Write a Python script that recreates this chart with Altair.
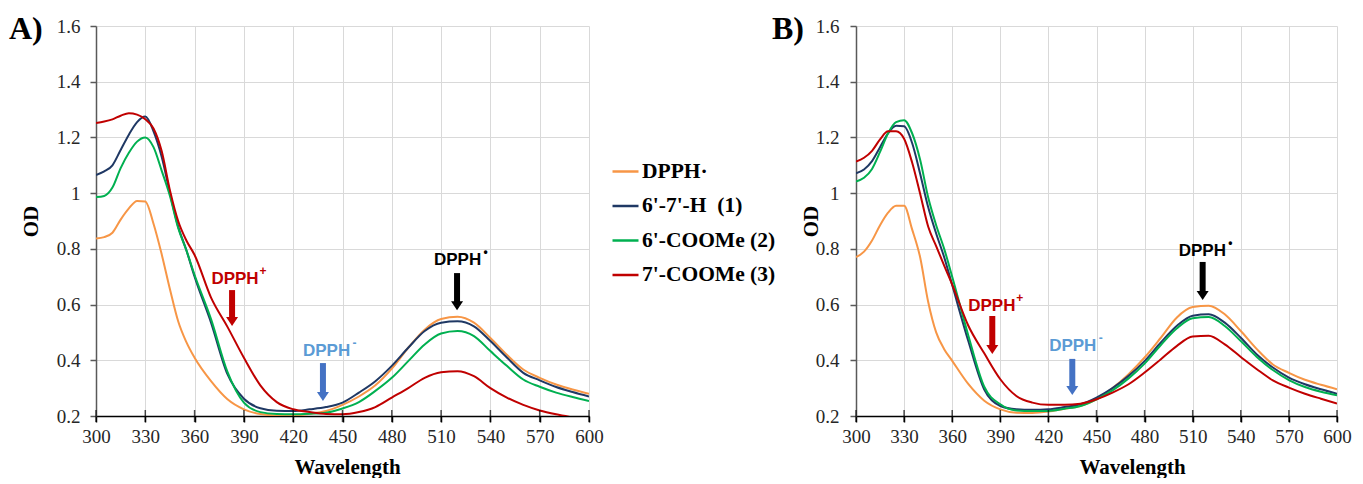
import altair as alt
import pandas as pd

# ---------------- data ----------------
wavelength = [300, 305, 310, 315, 320, 325, 330, 335, 340, 345, 350, 355, 360, 370, 380, 390,
              400, 410, 420, 430, 440, 450, 460, 470, 480, 490, 500, 510, 520, 530, 540, 550,
              560, 570, 580, 590, 600]

series_names = ["DPPH\u00b7", "6'-7'-H\u00a0 (1)", "6'-COOMe (2)", "7'-COOMe (3)"]
series_colors = ["#F79646", "#1F3864", "#00B050", "#C00000"]

# Panel A
a_dpph = [0.837, 0.842, 0.858, 0.905, 0.945, 0.972, 0.970, 0.890, 0.780, 0.655, 0.540, 0.465,
          0.409, 0.325, 0.260, 0.224, 0.207, 0.202, 0.202, 0.208, 0.218, 0.240, 0.270, 0.310,
          0.370, 0.445, 0.510, 0.548, 0.556, 0.535, 0.480, 0.420, 0.367, 0.337, 0.313, 0.295, 0.280]
a_h = [1.065, 1.078, 1.100, 1.155, 1.210, 1.255, 1.275, 1.222, 1.130, 1.000, 0.880, 0.795,
       0.700, 0.535, 0.350, 0.262, 0.228, 0.219, 0.218, 0.224, 0.232, 0.248, 0.284, 0.325,
       0.380, 0.445, 0.505, 0.535, 0.540, 0.522, 0.469, 0.410, 0.355, 0.328, 0.304, 0.286, 0.270]
a_6 = [0.986, 0.990, 1.020, 1.090, 1.145, 1.185, 1.200, 1.165, 1.080, 0.990, 0.875, 0.795,
       0.706, 0.548, 0.358, 0.248, 0.214, 0.207, 0.206, 0.208, 0.212, 0.227, 0.250, 0.290,
       0.337, 0.397, 0.457, 0.496, 0.505, 0.487, 0.433, 0.380, 0.331, 0.305, 0.284, 0.268, 0.254]
a_7 = [1.252, 1.257, 1.265, 1.278, 1.287, 1.282, 1.265, 1.232, 1.150, 1.010, 0.900, 0.830,
       0.778, 0.625, 0.520, 0.409, 0.310, 0.250, 0.224, 0.214, 0.207, 0.206, 0.214, 0.232,
       0.266, 0.300, 0.337, 0.357, 0.361, 0.343, 0.300, 0.266, 0.240, 0.220, 0.206, 0.195, 0.185]

# Panel B
b_dpph = [0.770, 0.790, 0.830, 0.885, 0.930, 0.955, 0.955, 0.870, 0.770, 0.610, 0.500, 0.440,
          0.398, 0.315, 0.255, 0.224, 0.212, 0.211, 0.216, 0.226, 0.236, 0.260, 0.300, 0.350,
          0.410, 0.480, 0.553, 0.591, 0.596, 0.565, 0.505, 0.440, 0.385, 0.355, 0.330, 0.312, 0.296]
b_h = [1.071, 1.085, 1.115, 1.165, 1.215, 1.242, 1.240, 1.180, 1.070, 0.950, 0.855, 0.770,
       0.670, 0.470, 0.295, 0.236, 0.224, 0.222, 0.224, 0.232, 0.242, 0.266, 0.300, 0.344,
       0.397, 0.463, 0.523, 0.560, 0.565, 0.535, 0.481, 0.421, 0.374, 0.338, 0.314, 0.296, 0.280]
b_6 = [1.042, 1.055, 1.087, 1.148, 1.215, 1.255, 1.262, 1.215, 1.120, 0.985, 0.885, 0.800,
       0.700, 0.490, 0.305, 0.242, 0.220, 0.218, 0.218, 0.226, 0.236, 0.260, 0.292, 0.335,
       0.388, 0.454, 0.514, 0.551, 0.555, 0.523, 0.469, 0.412, 0.365, 0.329, 0.304, 0.287, 0.274]
b_7 = [1.113, 1.127, 1.152, 1.193, 1.222, 1.222, 1.195, 1.110, 0.998, 0.880, 0.810, 0.740,
       0.672, 0.525, 0.425, 0.332, 0.272, 0.248, 0.240, 0.240, 0.244, 0.260, 0.284, 0.314,
       0.356, 0.403, 0.451, 0.485, 0.488, 0.457, 0.412, 0.368, 0.328, 0.302, 0.280, 0.262, 0.245]

x_ticks = [300, 330, 360, 390, 420, 450, 480, 510, 540, 570, 600]
y_ticks = [0.2, 0.4, 0.6, 0.8, 1.0, 1.2, 1.4, 1.6]

# Annotations (species labels with arrows)
ann_label = ["DPPH", "DPPH", "DPPH"]
ann_sup = ["+", "-", "\u2022"]
ann_text_color = ["#C00000", "#5B9BD5", "#000000"]
ann_arrow_color = ["#C00000", "#4472C4", "#000000"]

a_text_x = [384.6, 440.3, 520.0]
a_text_y = [0.692, 0.435, 0.761]
a_arrow_x = [382.8, 438.1, 519.7]
a_arrow_top = [0.652, 0.390, 0.713]
a_arrow_tip = [0.523, 0.254, 0.580]

b_text_x = [384.7, 435.2, 516.0]
b_text_y = [0.594, 0.453, 0.793]
b_arrow_x = [385.0, 434.9, 516.2]
b_arrow_top = [0.559, 0.405, 0.753]
b_arrow_tip = [0.423, 0.275, 0.616]

SERIF = "Liberation Serif"
SANS = "Liberation Sans"
HEIGHT = 390
HEAD_PX = 8


def make_panel(values, tx, ty, axx, atop, atip, letter, width, letter_dx,
               ytitle_x, xtitle_x, ylab_pad, show_legend):
    df = pd.DataFrame({
        "wl": wavelength * len(values),
        "od": [v for s in values for v in s],
        "series": [n for n in series_names for _ in wavelength],
    })
    head_data = HEAD_PX * (1.6 - 0.2) / HEIGHT
    ann = pd.DataFrame({
        "label": ann_label, "sup": ann_sup, "tcol": ann_text_color, "acol": ann_arrow_color,
        "tx": tx, "ty": ty, "ax": axx, "atop": atop, "atip": atip,
    })
    ann["shaft_end"] = ann["atip"] + head_data

    xs = alt.Scale(domain=[300, 600], nice=False, zero=False)
    ys = alt.Scale(domain=[0.2, 1.6], nice=False, zero=False)

    if show_legend:
        legend = alt.Legend(orient="none", legendX=515, legendY=131, title=None,
                            symbolType="stroke", symbolSize=676, symbolStrokeWidth=2.5,
                            labelFont=SERIF, labelFontSize=21.5, labelFontWeight="bold",
                            labelColor="#000000", labelOffset=2, rowPadding=9.5, padding=0,
                            labelLimit=300)
    else:
        legend = None

    x_axis = alt.Axis(values=x_ticks, title="Wavelength", grid=True, gridColor="#D9D9D9",
                      gridWidth=1, domainColor="#000000", domainWidth=1.5,
                      tickColor="#000000", tickWidth=1.5, tickSize=6,
                      labelFont=SERIF, labelFontSize=19, labelColor="#262626",
                      labelPadding=5, labelFlush=False, labelOverlap=False,
                      titleFont=SERIF, titleFontSize=21, titleFontWeight="bold",
                      titleColor="#000000", titleX=xtitle_x, titleY=57,
                      titleAlign="center", titleBaseline="alphabetic")
    y_axis = alt.Axis(values=y_ticks, format="~g", title="OD", grid=True, gridColor="#D9D9D9",
                      gridWidth=1, domainColor="#595959", domainWidth=1.5,
                      tickColor="#595959", tickWidth=1.5, tickSize=6,
                      labelFont=SERIF, labelFontSize=19, labelColor="#262626",
                      labelPadding=ylab_pad, labelOverlap=False,
                      titleFont=SERIF, titleFontSize=21, titleFontWeight="bold",
                      titleColor="#000000", titleX=ytitle_x, titleY=HEIGHT / 2,
                      titleAngle=270, titleAlign="center", titleBaseline="alphabetic")

    lines = alt.Chart(df).mark_line(strokeWidth=2, interpolate="monotone", clip=True).encode(
        x=alt.X("wl:Q", scale=xs, axis=x_axis),
        y=alt.Y("od:Q", scale=ys, axis=y_axis),
        color=alt.Color("series:N", scale=alt.Scale(domain=series_names, range=series_colors),
                        legend=legend, sort=series_names),
    )

    ticks = alt.Chart(pd.DataFrame({"wl": x_ticks})).mark_tick(
        orient="vertical", size=12, thickness=1.5, color="#000000"
    ).encode(x=alt.X("wl:Q", scale=xs, axis=x_axis), y=alt.datum(0.2))

    shafts = alt.Chart(ann).mark_rule(strokeWidth=6).encode(
        x=alt.X("ax:Q", scale=xs, axis=x_axis),
        y=alt.Y("atop:Q", scale=ys, axis=y_axis),
        y2="shaft_end:Q",
        color=alt.Color("acol:N", scale=None),
    )
    heads = alt.Chart(ann).mark_point(shape="M-1,-1.5L1,-1.5L0,0Z", filled=True, size=144,
                                      opacity=1, strokeWidth=0).encode(
        x=alt.X("ax:Q", scale=xs, axis=x_axis),
        y=alt.Y("atip:Q", scale=ys, axis=y_axis),
        color=alt.Color("acol:N", scale=None),
    )
    texts = alt.Chart(ann).mark_text(font=SANS, fontSize=17, fontWeight="bold",
                                     align="center", baseline="middle").encode(
        x=alt.X("tx:Q", scale=xs, axis=x_axis),
        y=alt.Y("ty:Q", scale=ys, axis=y_axis),
        text="label:N",
        color=alt.Color("tcol:N", scale=None),
    )
    sups = alt.Chart(ann).mark_text(font=SANS, fontSize=12, fontWeight="bold",
                                    align="center", baseline="middle", dx=28, dy=-8).encode(
        x=alt.X("tx:Q", scale=xs, axis=x_axis),
        y=alt.Y("ty:Q", scale=ys, axis=y_axis),
        text="sup:N",
        color=alt.Color("tcol:N", scale=None),
    )
    letter_mark = alt.Chart(pd.DataFrame({"t": [letter]})).mark_text(
        font=SERIF, fontSize=32, fontWeight="bold", align="left", baseline="alphabetic",
        color="#000000"
    ).encode(text="t:N", x=alt.value(letter_dx), y=alt.value(13))

    return alt.layer(lines, ticks, shafts, heads, texts, sups, letter_mark).properties(
        width=width, height=HEIGHT)


panel_a = make_panel([a_dpph, a_h, a_6, a_7], a_text_x, a_text_y, a_arrow_x, a_arrow_top,
                     a_arrow_tip, "A)", 493, -87, -59, 251, 10, True)
panel_b = make_panel([b_dpph, b_h, b_6, b_7], b_text_x, b_text_y, b_arrow_x, b_arrow_top,
                     b_arrow_tip, "B)", 481, -84, -39, 276, 11, False)

chart = alt.hconcat(panel_a, panel_b, spacing=-4).resolve_scale(
    color="independent"
).properties(
    padding={"left": 1, "top": 5, "right": 0, "bottom": 1},
    background="white",
).configure_view(stroke=None)

chart.save("out.html", embed_options={"renderer": "svg", "actions": False})
